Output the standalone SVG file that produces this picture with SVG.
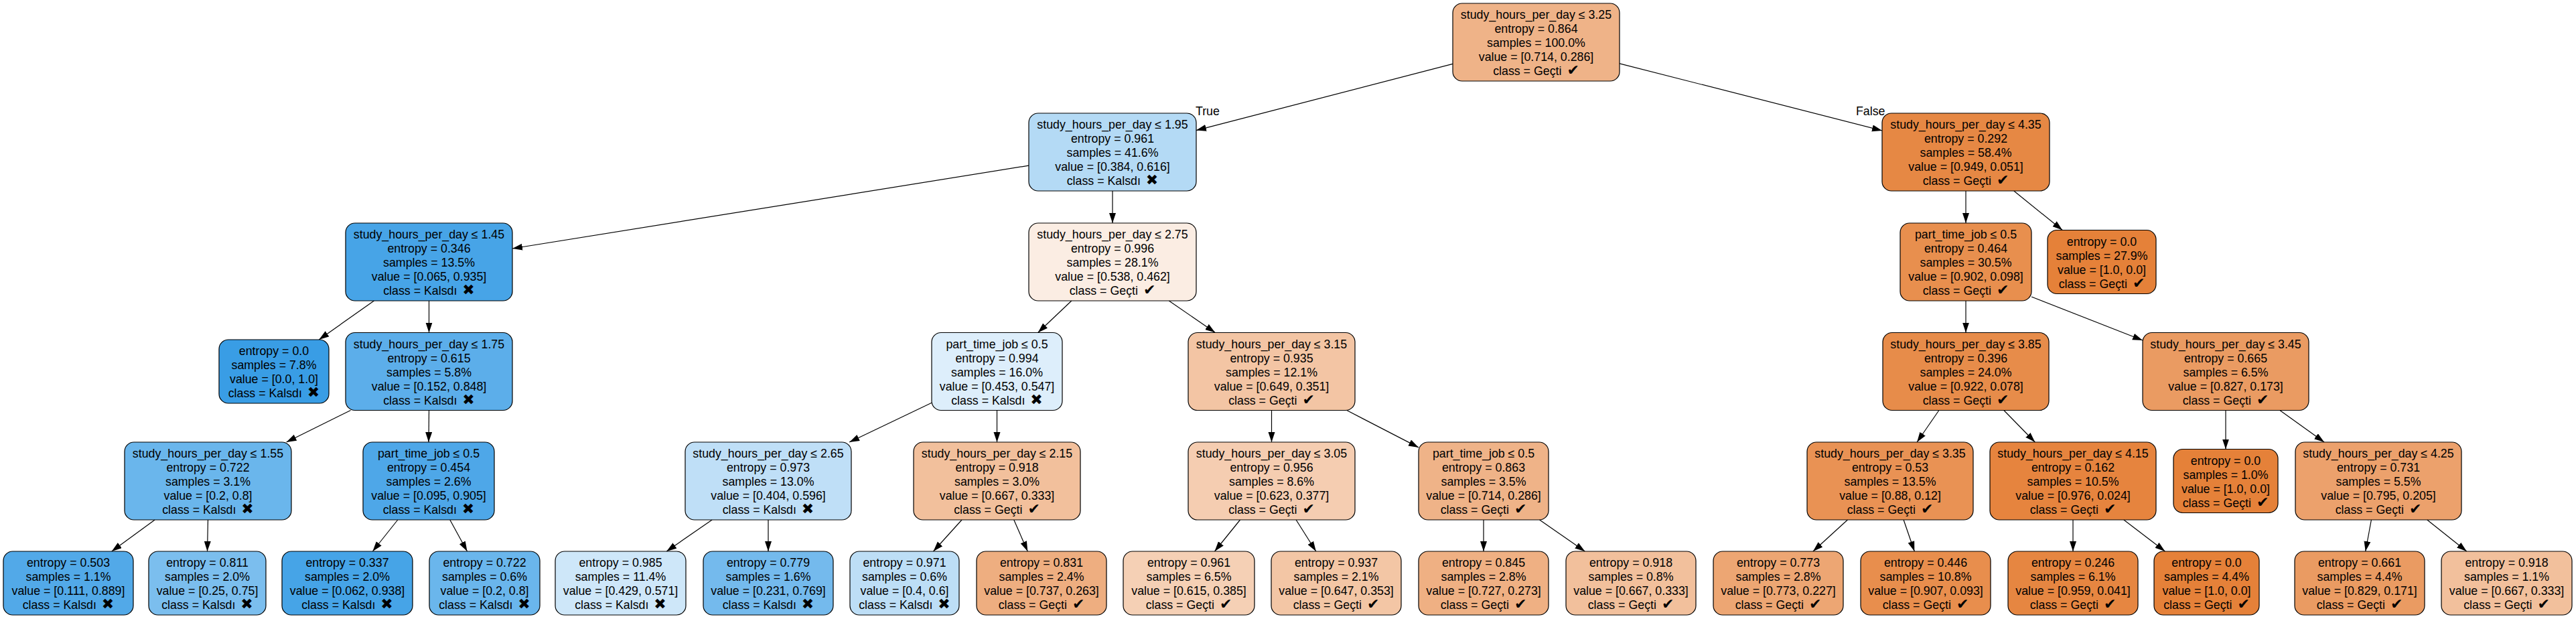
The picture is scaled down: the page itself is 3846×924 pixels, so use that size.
<svg xmlns="http://www.w3.org/2000/svg" width="3846" height="924" viewBox="0 0 3846 924">
<style>
.n rect{stroke:#000;stroke-width:1.2}
text{font-family:"Liberation Sans","DejaVu Sans",sans-serif;font-size:17.8px;fill:#000;text-anchor:middle}
.ic{font-family:"DejaVu Sans",sans-serif;font-size:22px}
.lbl{text-anchor:start}
#edges line{stroke:#000;stroke-width:1.2;marker-end:url(#ah)}
</style>
<defs>
<marker id="ah" markerUnits="userSpaceOnUse" markerWidth="16" markerHeight="11" refX="15" refY="5" orient="auto"><path d="M0,0 L15,5 L0,10 z" fill="#000"/></marker>
</defs>
<rect width="3846" height="924" fill="#fff"/>
<g id="edges">
<line x1="2169" y1="95.3" x2="1786" y2="194.6"/>
<line x1="2418" y1="94.8" x2="2810" y2="195"/>
<line x1="1536" y1="247.1" x2="765" y2="371"/>
<line x1="1661" y1="285" x2="1661" y2="333"/>
<line x1="558.4" y1="449" x2="476.3" y2="507"/>
<line x1="640.5" y1="449" x2="640.5" y2="496.5"/>
<line x1="523.5" y1="612.5" x2="427.6" y2="660"/>
<line x1="640.5" y1="612.5" x2="640" y2="660"/>
<line x1="231.1" y1="776" x2="166.8" y2="823"/>
<line x1="310.5" y1="776" x2="309.5" y2="823"/>
<line x1="593.8" y1="776" x2="556.4" y2="823"/>
<line x1="671.8" y1="776" x2="697.5" y2="823"/>
<line x1="1599.8" y1="449" x2="1549.7" y2="496.5"/>
<line x1="1745.3" y1="449" x2="1814.3" y2="496.5"/>
<line x1="1391" y1="601.2" x2="1268.1" y2="660"/>
<line x1="1488.5" y1="612.5" x2="1488.5" y2="660"/>
<line x1="1063.1" y1="776" x2="995.2" y2="823"/>
<line x1="1147" y1="776" x2="1147" y2="823"/>
<line x1="1436" y1="776" x2="1393.5" y2="823"/>
<line x1="1513.8" y1="776" x2="1534.3" y2="823"/>
<line x1="1898.5" y1="612.5" x2="1898.5" y2="660"/>
<line x1="2010.8" y1="612.5" x2="2118" y2="667.9"/>
<line x1="1851.5" y1="776" x2="1813.5" y2="823"/>
<line x1="1935.1" y1="776" x2="1964.8" y2="823"/>
<line x1="2215" y1="776" x2="2215" y2="823"/>
<line x1="2298.6" y1="776" x2="2366.3" y2="823"/>
<line x1="2935" y1="285" x2="2935" y2="333"/>
<line x1="3006.8" y1="285" x2="3079.2" y2="343.5"/>
<line x1="2935" y1="449" x2="2935" y2="496.5"/>
<line x1="3033" y1="443" x2="3199" y2="508"/>
<line x1="2894.9" y1="612.5" x2="2862.1" y2="660"/>
<line x1="2991.8" y1="612.5" x2="3038.3" y2="660"/>
<line x1="3323" y1="612.5" x2="3323" y2="670.5"/>
<line x1="3403.9" y1="612.5" x2="3470.1" y2="660"/>
<line x1="2758.4" y1="776" x2="2706.9" y2="823"/>
<line x1="2842.1" y1="776" x2="2858.3" y2="823"/>
<line x1="3095" y1="776" x2="3095" y2="823"/>
<line x1="3170.9" y1="776" x2="3232.4" y2="823"/>
<line x1="3540.4" y1="776" x2="3531.7" y2="823"/>
<line x1="3623.8" y1="776" x2="3682.8" y2="823"/>
<text class="lbl" x="1785" y="172">True</text>
<text class="lbl" x="2771" y="172">False</text>
</g>

<g id="node0" class="n"><rect x="2169" y="5" width="249" height="116" rx="14" fill="#efb388"/>
<text x="2293.5" y="28.2">study_hours_per_day ≤ 3.25</text><text x="2293.5" y="49.2">entropy = 0.864</text><text x="2293.5" y="70.2">samples = 100.0%</text><text x="2293.5" y="91.2">value = [0.714, 0.286]</text><text x="2293.5" y="112.2">class = Geçti <tspan class="ic" dx="3">✔</tspan></text></g>

<g id="node1" class="n"><rect x="1536" y="169" width="250" height="116" rx="14" fill="#b4daf5"/>
<text x="1661" y="192.2">study_hours_per_day ≤ 1.95</text><text x="1661" y="213.2">entropy = 0.961</text><text x="1661" y="234.2">samples = 41.6%</text><text x="1661" y="255.2">value = [0.384, 0.616]</text><text x="1661" y="276.2">class = Kalsdı <tspan class="ic" dx="3">✖</tspan></text></g>

<g id="node2" class="n"><rect x="516" y="333" width="249" height="116" rx="14" fill="#47a4e7"/>
<text x="640.5" y="356.2">study_hours_per_day ≤ 1.45</text><text x="640.5" y="377.2">entropy = 0.346</text><text x="640.5" y="398.2">samples = 13.5%</text><text x="640.5" y="419.2">value = [0.065, 0.935]</text><text x="640.5" y="440.2">class = Kalsdı <tspan class="ic" dx="3">✖</tspan></text></g>

<g id="node3" class="n"><rect x="327" y="507" width="164" height="95" rx="14" fill="#399de5"/>
<text x="409" y="530">entropy = 0.0</text><text x="409" y="551">samples = 7.8%</text><text x="409" y="572">value = [0.0, 1.0]</text><text x="409" y="593">class = Kalsdı <tspan class="ic" dx="3">✖</tspan></text></g>

<g id="node4" class="n"><rect x="516" y="496.5" width="249" height="116" rx="14" fill="#5caeea"/>
<text x="640.5" y="519.7">study_hours_per_day ≤ 1.75</text><text x="640.5" y="540.7">entropy = 0.615</text><text x="640.5" y="561.7">samples = 5.8%</text><text x="640.5" y="582.7">value = [0.152, 0.848]</text><text x="640.5" y="603.7">class = Kalsdı <tspan class="ic" dx="3">✖</tspan></text></g>

<g id="node5" class="n"><rect x="186" y="660" width="249" height="116" rx="14" fill="#6ab6ec"/>
<text x="310.5" y="683.2">study_hours_per_day ≤ 1.55</text><text x="310.5" y="704.2">entropy = 0.722</text><text x="310.5" y="725.2">samples = 3.1%</text><text x="310.5" y="746.2">value = [0.2, 0.8]</text><text x="310.5" y="767.2">class = Kalsdı <tspan class="ic" dx="3">✖</tspan></text></g>

<g id="node6" class="n"><rect x="5" y="823" width="194" height="95" rx="14" fill="#52a9e8"/>
<text x="102" y="846">entropy = 0.503</text><text x="102" y="867">samples = 1.1%</text><text x="102" y="888">value = [0.111, 0.889]</text><text x="102" y="909">class = Kalsdı <tspan class="ic" dx="3">✖</tspan></text></g>

<g id="node7" class="n"><rect x="222" y="823" width="175" height="95" rx="14" fill="#7bbeee"/>
<text x="309.5" y="846">entropy = 0.811</text><text x="309.5" y="867">samples = 2.0%</text><text x="309.5" y="888">value = [0.25, 0.75]</text><text x="309.5" y="909">class = Kalsdı <tspan class="ic" dx="3">✖</tspan></text></g>

<g id="node8" class="n"><rect x="542" y="660" width="196" height="116" rx="14" fill="#4ea7e8"/>
<text x="640" y="683.2">part_time_job ≤ 0.5</text><text x="640" y="704.2">entropy = 0.454</text><text x="640" y="725.2">samples = 2.6%</text><text x="640" y="746.2">value = [0.095, 0.905]</text><text x="640" y="767.2">class = Kalsdı <tspan class="ic" dx="3">✖</tspan></text></g>

<g id="node9" class="n"><rect x="421" y="823" width="195" height="95" rx="14" fill="#46a4e7"/>
<text x="518.5" y="846">entropy = 0.337</text><text x="518.5" y="867">samples = 2.0%</text><text x="518.5" y="888">value = [0.062, 0.938]</text><text x="518.5" y="909">class = Kalsdı <tspan class="ic" dx="3">✖</tspan></text></g>

<g id="node10" class="n"><rect x="641" y="823" width="165" height="95" rx="14" fill="#6ab6ec"/>
<text x="723.5" y="846">entropy = 0.722</text><text x="723.5" y="867">samples = 0.6%</text><text x="723.5" y="888">value = [0.2, 0.8]</text><text x="723.5" y="909">class = Kalsdı <tspan class="ic" dx="3">✖</tspan></text></g>

<g id="node11" class="n"><rect x="1536" y="333" width="250" height="116" rx="14" fill="#fbede3"/>
<text x="1661" y="356.2">study_hours_per_day ≤ 2.75</text><text x="1661" y="377.2">entropy = 0.996</text><text x="1661" y="398.2">samples = 28.1%</text><text x="1661" y="419.2">value = [0.538, 0.462]</text><text x="1661" y="440.2">class = Geçti <tspan class="ic" dx="3">✔</tspan></text></g>

<g id="node12" class="n"><rect x="1391" y="496.5" width="195" height="116" rx="14" fill="#ddeefb"/>
<text x="1488.5" y="519.7">part_time_job ≤ 0.5</text><text x="1488.5" y="540.7">entropy = 0.994</text><text x="1488.5" y="561.7">samples = 16.0%</text><text x="1488.5" y="582.7">value = [0.453, 0.547]</text><text x="1488.5" y="603.7">class = Kalsdı <tspan class="ic" dx="3">✖</tspan></text></g>

<g id="node13" class="n"><rect x="1023" y="660" width="248" height="116" rx="14" fill="#bfdff7"/>
<text x="1147" y="683.2">study_hours_per_day ≤ 2.65</text><text x="1147" y="704.2">entropy = 0.973</text><text x="1147" y="725.2">samples = 13.0%</text><text x="1147" y="746.2">value = [0.404, 0.596]</text><text x="1147" y="767.2">class = Kalsdı <tspan class="ic" dx="3">✖</tspan></text></g>

<g id="node14" class="n"><rect x="829" y="823" width="195" height="95" rx="14" fill="#cee7f9"/>
<text x="926.5" y="846">entropy = 0.985</text><text x="926.5" y="867">samples = 11.4%</text><text x="926.5" y="888">value = [0.429, 0.571]</text><text x="926.5" y="909">class = Kalsdı <tspan class="ic" dx="3">✖</tspan></text></g>

<g id="node15" class="n"><rect x="1050" y="823" width="194" height="95" rx="14" fill="#74baed"/>
<text x="1147" y="846">entropy = 0.779</text><text x="1147" y="867">samples = 1.6%</text><text x="1147" y="888">value = [0.231, 0.769]</text><text x="1147" y="909">class = Kalsdı <tspan class="ic" dx="3">✖</tspan></text></g>

<g id="node16" class="n"><rect x="1364" y="660" width="249" height="116" rx="14" fill="#f2c09c"/>
<text x="1488.5" y="683.2">study_hours_per_day ≤ 2.15</text><text x="1488.5" y="704.2">entropy = 0.918</text><text x="1488.5" y="725.2">samples = 3.0%</text><text x="1488.5" y="746.2">value = [0.667, 0.333]</text><text x="1488.5" y="767.2">class = Geçti <tspan class="ic" dx="3">✔</tspan></text></g>

<g id="node17" class="n"><rect x="1269" y="823" width="163" height="95" rx="14" fill="#bddef6"/>
<text x="1350.5" y="846">entropy = 0.971</text><text x="1350.5" y="867">samples = 0.6%</text><text x="1350.5" y="888">value = [0.4, 0.6]</text><text x="1350.5" y="909">class = Kalsdı <tspan class="ic" dx="3">✖</tspan></text></g>

<g id="node18" class="n"><rect x="1458" y="823" width="194" height="95" rx="14" fill="#eeae80"/>
<text x="1555" y="846">entropy = 0.831</text><text x="1555" y="867">samples = 2.4%</text><text x="1555" y="888">value = [0.737, 0.263]</text><text x="1555" y="909">class = Geçti <tspan class="ic" dx="3">✔</tspan></text></g>

<g id="node19" class="n"><rect x="1774" y="496.5" width="249" height="116" rx="14" fill="#f3c5a4"/>
<text x="1898.5" y="519.7">study_hours_per_day ≤ 3.15</text><text x="1898.5" y="540.7">entropy = 0.935</text><text x="1898.5" y="561.7">samples = 12.1%</text><text x="1898.5" y="582.7">value = [0.649, 0.351]</text><text x="1898.5" y="603.7">class = Geçti <tspan class="ic" dx="3">✔</tspan></text></g>

<g id="node20" class="n"><rect x="1774" y="660" width="249" height="116" rx="14" fill="#f5cdb1"/>
<text x="1898.5" y="683.2">study_hours_per_day ≤ 3.05</text><text x="1898.5" y="704.2">entropy = 0.956</text><text x="1898.5" y="725.2">samples = 8.6%</text><text x="1898.5" y="746.2">value = [0.623, 0.377]</text><text x="1898.5" y="767.2">class = Geçti <tspan class="ic" dx="3">✔</tspan></text></g>

<g id="node21" class="n"><rect x="1677" y="823" width="196" height="95" rx="14" fill="#f5d0b5"/>
<text x="1775" y="846">entropy = 0.961</text><text x="1775" y="867">samples = 6.5%</text><text x="1775" y="888">value = [0.615, 0.385]</text><text x="1775" y="909">class = Geçti <tspan class="ic" dx="3">✔</tspan></text></g>

<g id="node22" class="n"><rect x="1898" y="823" width="194" height="95" rx="14" fill="#f3c6a5"/>
<text x="1995" y="846">entropy = 0.937</text><text x="1995" y="867">samples = 2.1%</text><text x="1995" y="888">value = [0.647, 0.353]</text><text x="1995" y="909">class = Geçti <tspan class="ic" dx="3">✔</tspan></text></g>

<g id="node23" class="n"><rect x="2118" y="660" width="194" height="116" rx="14" fill="#efb388"/>
<text x="2215" y="683.2">part_time_job ≤ 0.5</text><text x="2215" y="704.2">entropy = 0.863</text><text x="2215" y="725.2">samples = 3.5%</text><text x="2215" y="746.2">value = [0.714, 0.286]</text><text x="2215" y="767.2">class = Geçti <tspan class="ic" dx="3">✔</tspan></text></g>

<g id="node24" class="n"><rect x="2118" y="823" width="194" height="95" rx="14" fill="#efb083"/>
<text x="2215" y="846">entropy = 0.845</text><text x="2215" y="867">samples = 2.8%</text><text x="2215" y="888">value = [0.727, 0.273]</text><text x="2215" y="909">class = Geçti <tspan class="ic" dx="3">✔</tspan></text></g>

<g id="node25" class="n"><rect x="2338" y="823" width="194" height="95" rx="14" fill="#f2c09c"/>
<text x="2435" y="846">entropy = 0.918</text><text x="2435" y="867">samples = 0.8%</text><text x="2435" y="888">value = [0.667, 0.333]</text><text x="2435" y="909">class = Geçti <tspan class="ic" dx="3">✔</tspan></text></g>

<g id="node26" class="n"><rect x="2810" y="169" width="250" height="116" rx="14" fill="#e68844"/>
<text x="2935" y="192.2">study_hours_per_day ≤ 4.35</text><text x="2935" y="213.2">entropy = 0.292</text><text x="2935" y="234.2">samples = 58.4%</text><text x="2935" y="255.2">value = [0.949, 0.051]</text><text x="2935" y="276.2">class = Geçti <tspan class="ic" dx="3">✔</tspan></text></g>

<g id="node27" class="n"><rect x="2837" y="333" width="196" height="116" rx="14" fill="#e88f4e"/>
<text x="2935" y="356.2">part_time_job ≤ 0.5</text><text x="2935" y="377.2">entropy = 0.464</text><text x="2935" y="398.2">samples = 30.5%</text><text x="2935" y="419.2">value = [0.902, 0.098]</text><text x="2935" y="440.2">class = Geçti <tspan class="ic" dx="3">✔</tspan></text></g>

<g id="node28" class="n"><rect x="2811" y="496.5" width="248" height="116" rx="14" fill="#e78c4a"/>
<text x="2935" y="519.7">study_hours_per_day ≤ 3.85</text><text x="2935" y="540.7">entropy = 0.396</text><text x="2935" y="561.7">samples = 24.0%</text><text x="2935" y="582.7">value = [0.922, 0.078]</text><text x="2935" y="603.7">class = Geçti <tspan class="ic" dx="3">✔</tspan></text></g>

<g id="node29" class="n"><rect x="2698" y="660" width="248" height="116" rx="14" fill="#e99254"/>
<text x="2822" y="683.2">study_hours_per_day ≤ 3.35</text><text x="2822" y="704.2">entropy = 0.53</text><text x="2822" y="725.2">samples = 13.5%</text><text x="2822" y="746.2">value = [0.88, 0.12]</text><text x="2822" y="767.2">class = Geçti <tspan class="ic" dx="3">✔</tspan></text></g>

<g id="node30" class="n"><rect x="2558" y="823" width="194" height="95" rx="14" fill="#eda673"/>
<text x="2655" y="846">entropy = 0.773</text><text x="2655" y="867">samples = 2.8%</text><text x="2655" y="888">value = [0.773, 0.227]</text><text x="2655" y="909">class = Geçti <tspan class="ic" dx="3">✔</tspan></text></g>

<g id="node31" class="n"><rect x="2778" y="823" width="194" height="95" rx="14" fill="#e88e4d"/>
<text x="2875" y="846">entropy = 0.446</text><text x="2875" y="867">samples = 10.8%</text><text x="2875" y="888">value = [0.907, 0.093]</text><text x="2875" y="909">class = Geçti <tspan class="ic" dx="3">✔</tspan></text></g>

<g id="node32" class="n"><rect x="2971" y="660" width="248" height="116" rx="14" fill="#e6843e"/>
<text x="3095" y="683.2">study_hours_per_day ≤ 4.15</text><text x="3095" y="704.2">entropy = 0.162</text><text x="3095" y="725.2">samples = 10.5%</text><text x="3095" y="746.2">value = [0.976, 0.024]</text><text x="3095" y="767.2">class = Geçti <tspan class="ic" dx="3">✔</tspan></text></g>

<g id="node33" class="n"><rect x="2998" y="823" width="194" height="95" rx="14" fill="#e68641"/>
<text x="3095" y="846">entropy = 0.246</text><text x="3095" y="867">samples = 6.1%</text><text x="3095" y="888">value = [0.959, 0.041]</text><text x="3095" y="909">class = Geçti <tspan class="ic" dx="3">✔</tspan></text></g>

<g id="node34" class="n"><rect x="3216" y="823" width="157" height="95" rx="14" fill="#e58139"/>
<text x="3294.5" y="846">entropy = 0.0</text><text x="3294.5" y="867">samples = 4.4%</text><text x="3294.5" y="888">value = [1.0, 0.0]</text><text x="3294.5" y="909">class = Geçti <tspan class="ic" dx="3">✔</tspan></text></g>

<g id="node35" class="n"><rect x="3199" y="496.5" width="248" height="116" rx="14" fill="#ea9b62"/>
<text x="3323" y="519.7">study_hours_per_day ≤ 3.45</text><text x="3323" y="540.7">entropy = 0.665</text><text x="3323" y="561.7">samples = 6.5%</text><text x="3323" y="582.7">value = [0.827, 0.173]</text><text x="3323" y="603.7">class = Geçti <tspan class="ic" dx="3">✔</tspan></text></g>

<g id="node36" class="n"><rect x="3245" y="670.5" width="156" height="95" rx="14" fill="#e58139"/>
<text x="3323" y="693.5">entropy = 0.0</text><text x="3323" y="714.5">samples = 1.0%</text><text x="3323" y="735.5">value = [1.0, 0.0]</text><text x="3323" y="756.5">class = Geçti <tspan class="ic" dx="3">✔</tspan></text></g>

<g id="node37" class="n"><rect x="3427" y="660" width="248" height="116" rx="14" fill="#eca16c"/>
<text x="3551" y="683.2">study_hours_per_day ≤ 4.25</text><text x="3551" y="704.2">entropy = 0.731</text><text x="3551" y="725.2">samples = 5.5%</text><text x="3551" y="746.2">value = [0.795, 0.205]</text><text x="3551" y="767.2">class = Geçti <tspan class="ic" dx="3">✔</tspan></text></g>

<g id="node38" class="n"><rect x="3426" y="823" width="194" height="95" rx="14" fill="#ea9b62"/>
<text x="3523" y="846">entropy = 0.661</text><text x="3523" y="867">samples = 4.4%</text><text x="3523" y="888">value = [0.829, 0.171]</text><text x="3523" y="909">class = Geçti <tspan class="ic" dx="3">✔</tspan></text></g>

<g id="node39" class="n"><rect x="3645" y="823" width="195" height="95" rx="14" fill="#f2c09c"/>
<text x="3742.5" y="846">entropy = 0.918</text><text x="3742.5" y="867">samples = 1.1%</text><text x="3742.5" y="888">value = [0.667, 0.333]</text><text x="3742.5" y="909">class = Geçti <tspan class="ic" dx="3">✔</tspan></text></g>

<g id="node40" class="n"><rect x="3057" y="343.5" width="162" height="95" rx="14" fill="#e58139"/>
<text x="3138" y="366.5">entropy = 0.0</text><text x="3138" y="387.5">samples = 27.9%</text><text x="3138" y="408.5">value = [1.0, 0.0]</text><text x="3138" y="429.5">class = Geçti <tspan class="ic" dx="3">✔</tspan></text></g>
</svg>
